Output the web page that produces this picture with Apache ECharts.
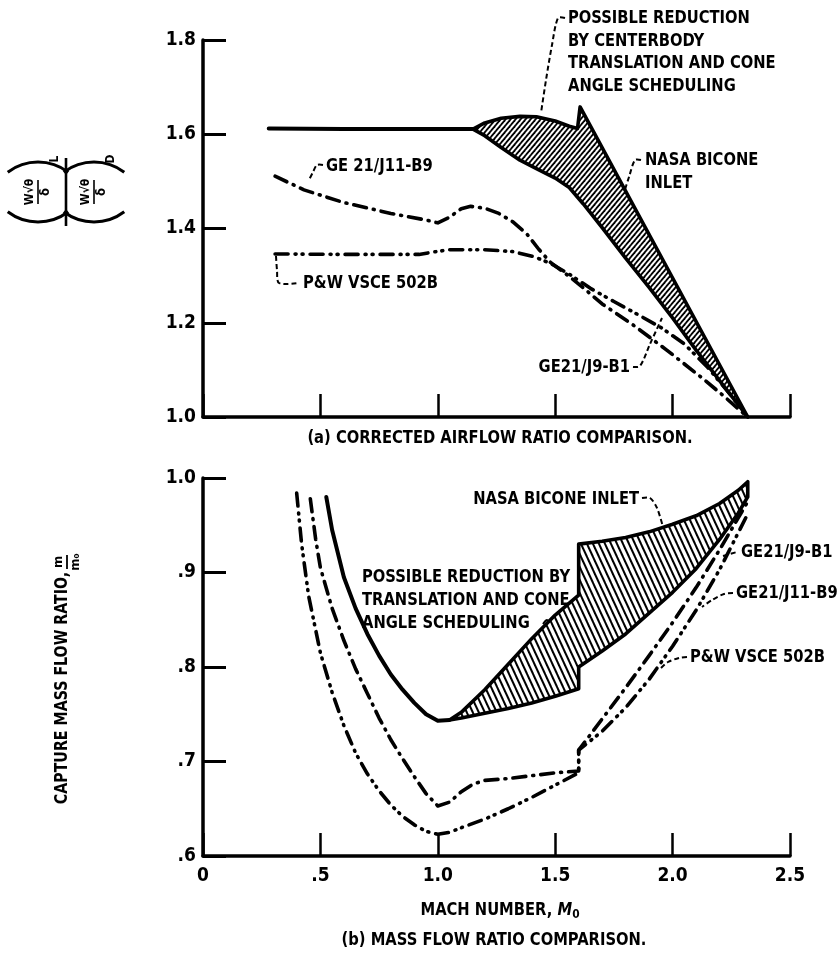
<!DOCTYPE html>
<html><head><meta charset="utf-8">
<script src="https://cdn.jsdelivr.net/npm/echarts@6/dist/echarts.min.js"></script>
<style>html,body{margin:0;padding:0;background:#fff}#c{width:837px;height:956px}</style>
</head><body><div id="c"></div><script>
// ---------- DATA (Mach number, value) ----------
// (a) corrected airflow ratio
const nasaTopFlat = [[0.28,1.612],[0.6,1.611],[1.0,1.611],[1.15,1.611]];
const hatchTopUpper = [[1.15,1.611],[1.2,1.624],[1.27,1.634],[1.35,1.638],[1.42,1.637],[1.5,1.628],[1.56,1.617],[1.595,1.612],[1.606,1.658],[2.32,1.0]];
const hatchTopLower = [[1.15,1.611],[1.2,1.597],[1.27,1.572],[1.35,1.545],[1.42,1.527],[1.5,1.507],[1.56,1.487],[1.62,1.452],[1.7,1.402],[1.8,1.337],[1.9,1.275],[2.0,1.21],[2.1,1.142],[2.2,1.077],[2.32,1.0]];
const geJ11Top = [[0.307,1.511],[0.43,1.482],[0.6,1.455],[0.8,1.432],[0.95,1.418],[1.0,1.412],[1.05,1.424],[1.1,1.442],[1.14,1.447],[1.2,1.443],[1.26,1.432],[1.32,1.414],[1.38,1.388],[1.43,1.356],[1.48,1.328],[1.55,1.302],[1.62,1.274],[1.7,1.24],[1.83,1.196],[1.975,1.142],[2.12,1.085],[2.2,1.052],[2.32,1.0]];
const pwTop = [[0.307,1.346],[0.6,1.345],[0.92,1.345],[0.98,1.35],[1.05,1.355],[1.2,1.355],[1.32,1.351],[1.41,1.34],[1.48,1.326],[1.56,1.303],[1.65,1.273],[1.75,1.245],[1.85,1.218],[1.95,1.19],[2.05,1.155],[2.15,1.105],[2.25,1.045],[2.32,1.0]];
// (b) mass flow ratio
const nasaBotLeft = [[0.525,0.98],[0.55,0.945],[0.6,0.895],[0.65,0.862],[0.7,0.835],[0.75,0.812],[0.8,0.792],[0.85,0.776],[0.9,0.762],[0.95,0.75],[1.0,0.743],[1.05,0.744]];
const hatchBotUpper = [[1.05,0.744],[1.1,0.752],[1.2,0.776],[1.3,0.803],[1.4,0.83],[1.5,0.855],[1.6,0.876],[1.6,0.93],[1.7,0.933],[1.8,0.937],[1.9,0.943],[2.0,0.951],[2.1,0.96],[2.2,0.973],[2.28,0.987],[2.32,0.996]];
const hatchBotLower = [[1.05,0.744],[1.1,0.746],[1.2,0.751],[1.3,0.756],[1.4,0.762],[1.5,0.769],[1.6,0.777],[1.6,0.80],[1.7,0.817],[1.8,0.835],[1.9,0.857],[2.0,0.879],[2.1,0.904],[2.2,0.935],[2.28,0.963],[2.32,0.98]];
const geJ11Bot = [[0.457,0.978],[0.48,0.935],[0.5,0.905],[0.55,0.862],[0.6,0.828],[0.65,0.798],[0.7,0.772],[0.75,0.746],[0.8,0.723],[0.85,0.703],[0.9,0.684],[0.95,0.666],[1.0,0.653],[1.05,0.657],[1.1,0.668],[1.15,0.676],[1.2,0.68],[1.3,0.682],[1.4,0.685],[1.5,0.688],[1.6,0.69],[1.6,0.712],[1.7,0.745],[1.8,0.778],[1.9,0.812],[2.0,0.847],[2.1,0.884],[2.2,0.924],[2.32,0.975]];
const pwBot = [[0.399,0.984],[0.42,0.93],[0.45,0.875],[0.5,0.815],[0.55,0.773],[0.6,0.738],[0.65,0.709],[0.7,0.687],[0.75,0.669],[0.8,0.654],[0.85,0.642],[0.9,0.633],[0.95,0.626],[1.0,0.623],[1.05,0.625],[1.1,0.63],[1.2,0.639],[1.3,0.65],[1.4,0.662],[1.5,0.675],[1.6,0.688],[1.6,0.712],[1.7,0.732],[1.8,0.757],[1.9,0.787],[2.0,0.822],[2.1,0.86],[2.2,0.903],[2.32,0.962]];
// tick labels
const xTickLabels = ['0','.5','1.0','1.5','2.0','2.5'];
const yTopTickLabels = ['1.0','1.2','1.4','1.6','1.8'];
const yBotTickLabels = ['.6','.7','.8','.9','1.0'];

// ---------- STYLE ----------
const FF = "'Liberation Sans Narrow','DejaVu Sans Condensed','Liberation Sans',sans-serif";
const font = s => 'bold ' + s + 'px ' + FF;
const BLACK = '#000';
const SX = 0.91;

function hatch(w, h, dir, lw) {
  const c = document.createElement('canvas'); c.width = w; c.height = h;
  const ctx = c.getContext('2d');
  ctx.fillStyle = '#fff'; ctx.fillRect(0, 0, w, h);
  ctx.strokeStyle = '#000'; ctx.lineWidth = lw;
  for (let k = -1; k <= 1; k++) {
    const x0 = k * w;
    ctx.beginPath();
    if (dir === '/') { ctx.moveTo(x0 - w, 2 * h); ctx.lineTo(x0 + 2 * w, -h); }
    else { ctx.moveTo(x0 - w, -h); ctx.lineTo(x0 + 2 * w, 2 * h); }
    ctx.stroke();
  }
  return { image: c, repeat: 'repeat' };
}
const patTop = hatch(5, 6, '/', 1.8);
const patBot = hatch(6, 13, '\\', 2.0);

function polySeries(xi, upper, lower, pat) {
  const poly = upper.concat(lower.slice().reverse());
  return {
    type: 'custom', xAxisIndex: xi, yAxisIndex: xi, silent: true, z: 3,
    data: [upper[0]],
    renderItem: (params, api) => ({
      type: 'polygon',
      shape: { points: poly.map(p => api.coord(p)) },
      style: { fill: pat, stroke: BLACK, lineWidth: 3.6, lineJoin: 'round' }
    })
  };
}
function lineSeries(xi, data, dash, w) {
  return {
    type: 'line', xAxisIndex: xi, yAxisIndex: xi, data, showSymbol: false, silent: true,
    smooth: false, z: 4,
    lineStyle: { color: BLACK, width: w || 3.6, type: dash || 'solid', cap: 'round', join: 'round' }
  };
}
const DASH_DOT = [13, 7, 1, 7];
const DASH_DOT_DOT = [13, 7, 1, 6, 1, 7];

const axisLabel = { color: BLACK, fontFamily: FF, fontWeight: 'bold', fontSize: 19 };
function xAxis(gi, showLabel) {
  return {
    type: 'value', gridIndex: gi, min: 0, max: 2.5, interval: 0.5,
    axisLine: { lineStyle: { color: BLACK, width: 3.5 } },
    axisTick: { inside: true, length: 23, lineStyle: { color: BLACK, width: 2.5 } },
    splitLine: { show: false },
    axisLabel: Object.assign({ show: showLabel, margin: 11, formatter: (v) => xTickLabels[Math.round(v / 0.5)] }, axisLabel)
  };
}
function yAxis(gi, min, max, step, labels) {
  return {
    type: 'value', gridIndex: gi, min, max, interval: step,
    axisLine: { show: true, lineStyle: { color: BLACK, width: 3.5 } },
    axisTick: { show: true, inside: true, length: 23, lineStyle: { color: BLACK, width: 3 } },
    splitLine: { show: false },
    axisLabel: Object.assign({ margin: 7, formatter: (v) => labels[Math.round((v - min) / step)] }, axisLabel)
  };
}

function txt(x, y, text, size, align) {
  return { type: 'text', x, y, scaleX: SX, silent: true, style: { text, fill: BLACK, font: font(size || 18), textAlign: align || 'left', align: align || 'left', textVerticalAlign: 'middle', verticalAlign: 'middle' } };
}
function lead(points, dashed) {
  return { type: 'polyline', silent: true, shape: { points, smooth: 0.3 }, style: { stroke: BLACK, lineWidth: 2, fill: null, lineDash: dashed === false ? null : [5, 3] } };
}
function line(x1, y1, x2, y2, lw) {
  return { type: 'line', silent: true, shape: { x1, y1, x2, y2 }, style: { stroke: BLACK, lineWidth: lw || 2 } };
}
function arc(cx, cy, r, a0, a1) {
  return { type: 'arc', silent: true, shape: { cx, cy, r, startAngle: a0, endAngle: a1 }, style: { stroke: BLACK, lineWidth: 3, fill: null } };
}
function ctext(x, y, text, size, sx) {
  return { type: 'text', x, y, scaleX: sx || 1, silent: true, style: { text, fill: BLACK, font: font(size), textAlign: 'center', align: 'center', textVerticalAlign: 'middle', verticalAlign: 'middle' } };
}
// rotated ratio symbol for (a)
function ratioGroup(cy, sub) {
  const a = 0.65, r = 50;
  return [
    arc(-30 + r, cy, r, Math.PI - a, Math.PI + a),
    arc(30 - r, cy, r, -a, a),
    ctext(0, cy - 8, 'W√θ', 12),
    line(-12, cy, 12, cy, 1.6),
    ctext(0, cy + 8, 'δ', 13),
    ctext(33, cy + 17, sub, 12)
  ];
}

const chart = echarts.init(document.getElementById('c'), null, { renderer: 'canvas' });
chart.setOption({
  animation: false,
  backgroundColor: '#fff',
  grid: [
    { left: 203, top: 40, width: 587, height: 377 },
    { left: 203, top: 478, width: 587, height: 378 }
  ],
  xAxis: [xAxis(0, false), xAxis(1, true)],
  yAxis: [yAxis(0, 1.0, 1.8, 0.2, yTopTickLabels), yAxis(1, 0.6, 1.0, 0.1, yBotTickLabels)],
  series: [
    polySeries(0, hatchTopUpper, hatchTopLower, patTop),
    lineSeries(0, nasaTopFlat, 'solid', 4),
    lineSeries(0, geJ11Top, DASH_DOT),
    lineSeries(0, pwTop, DASH_DOT_DOT),
    polySeries(1, hatchBotUpper, hatchBotLower, patBot),
    lineSeries(1, nasaBotLeft, 'solid', 4),
    lineSeries(1, geJ11Bot, DASH_DOT),
    lineSeries(1, pwBot, DASH_DOT_DOT)
  ],
  graphic: [
    // (a) annotations
    txt(568, 18, 'POSSIBLE REDUCTION'),
    txt(568, 41, 'BY CENTERBODY'),
    txt(568, 63, 'TRANSLATION AND CONE'),
    txt(568, 86, 'ANGLE SCHEDULING'),
    lead([[565, 18], [558, 18], [552, 45], [546, 80], [541, 113]]),
    txt(645, 160, 'NASA BICONE'),
    txt(645, 183, 'INLET'),
    lead([[641, 160], [635, 160], [629, 177], [623, 196]]),
    txt(326, 166, 'GE 21/J11-B9'),
    lead([[323, 165], [317, 165], [313, 172], [309, 180]]),
    txt(303, 283, 'P&W VSCE 502B'),
    lead([[276, 256], [277, 270], [279, 283], [299, 283]]),
    txt(630, 367, 'GE21/J9-B1', 18, 'right'),
    lead([[633, 367], [640, 366], [650, 344], [662, 318]]),
    ctext(500, 438, '(a) CORRECTED AIRFLOW RATIO COMPARISON.', 18, SX),
    // (b) annotations
    txt(639, 499, 'NASA BICONE INLET', 18, 'right'),
    lead([[642, 498], [650, 498], [657, 508], [663, 527]]),
    txt(362, 577, 'POSSIBLE REDUCTION BY'),
    txt(362, 600, 'TRANSLATION AND CONE'),
    txt(362, 623, 'ANGLE SCHEDULING'),
    lead([[543, 624], [547, 620], [551, 625], [556, 621]], false),
    txt(741, 552, 'GE21/J9-B1'),
    lead([[723, 556], [737, 552]]),
    txt(736, 593, 'GE21/J11-B9'),
    lead([[733, 593], [724, 594], [712, 600], [702, 607]]),
    txt(690, 657, 'P&W VSCE 502B'),
    lead([[687, 657], [679, 658], [668, 662], [661, 668]]),
    {
      type: 'text', x: 500, y: 910, scaleX: SX, silent: true,
      style: {
        text: 'MACH NUMBER, {m|M}{s|0}', fill: BLACK, font: font(18), textAlign: 'center', align: 'center', textVerticalAlign: 'middle', verticalAlign: 'middle',
        rich: { m: { font: 'italic ' + font(18), fill: BLACK }, s: { font: font(13), fill: BLACK, padding: [10, 0, 0, 0] } }
      }
    },
    ctext(494, 940, '(b) MASS FLOW RATIO COMPARISON.', 18, SX),
    // y-axis titles
    {
      type: 'group', x: 66, y: 192, rotation: Math.PI / 2, silent: true,
      children: [].concat(ratioGroup(-28, 'L'), ratioGroup(28, 'D'), [line(-34, 0, 34, 0, 2.6)])
    },
    {
      type: 'group', x: 63, y: 688, rotation: Math.PI / 2, silent: true,
      children: [
        ctext(0, 0, 'CAPTURE MASS FLOW RATIO,', 17, 0.93),
        ctext(126, -4, 'm', 13),
        line(119, 4, 133, 4, 1.8),
        ctext(126, 13, 'm₀', 13)
      ]
    }
  ]
});
</script></body></html>
